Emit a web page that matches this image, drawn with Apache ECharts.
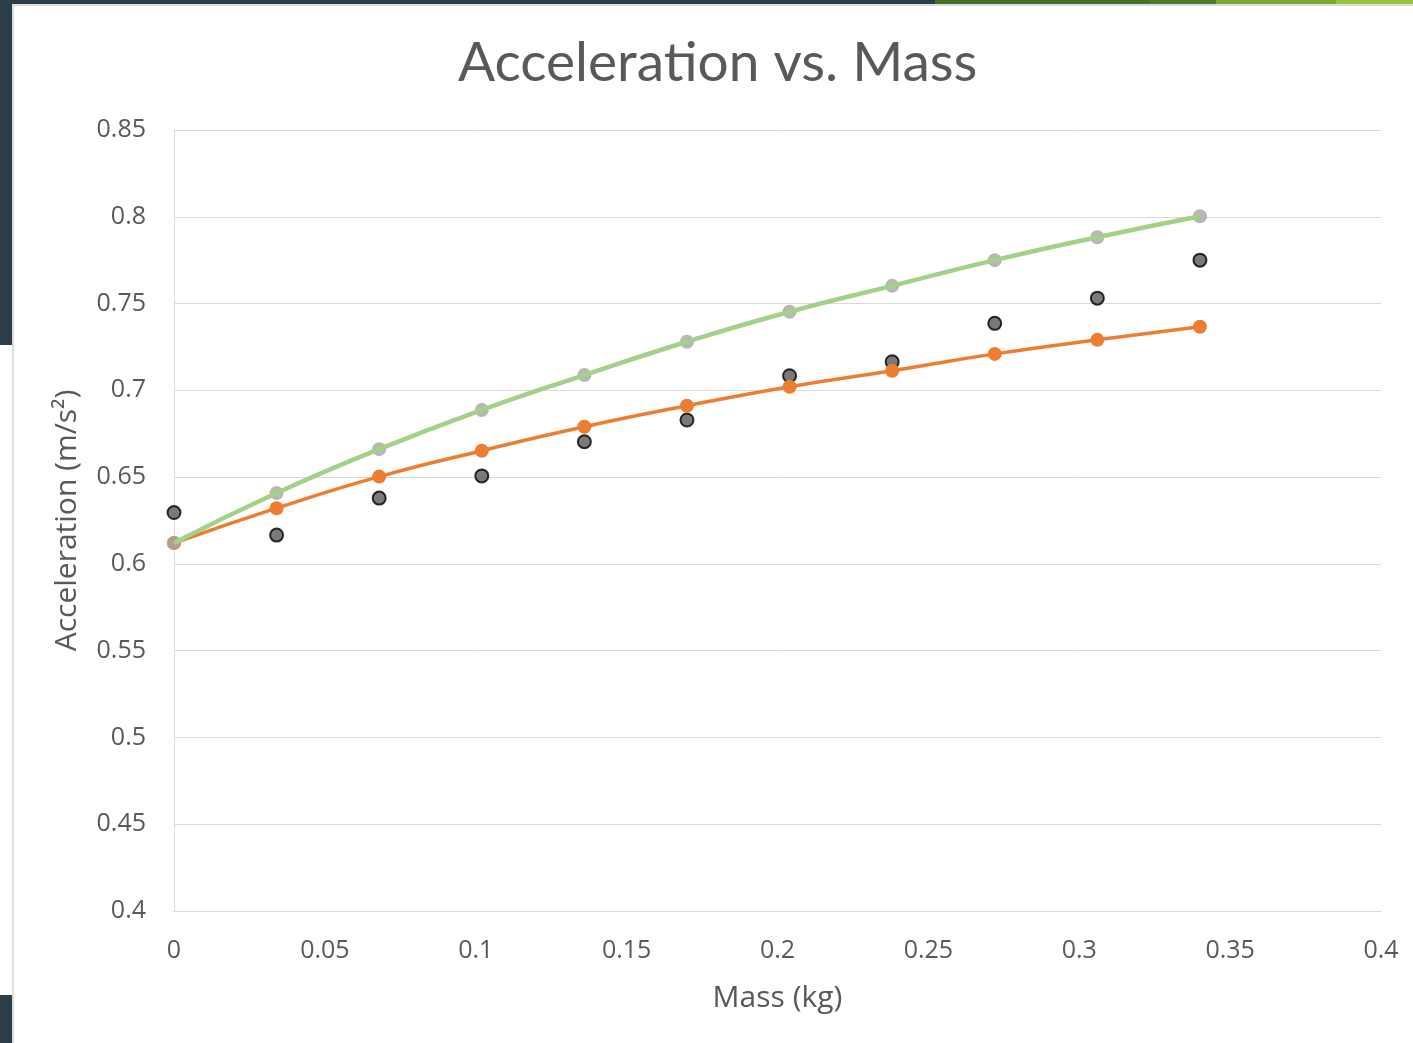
<!DOCTYPE html>
<html>
<head>
<meta charset="utf-8">
<script src="https://cdn.jsdelivr.net/npm/echarts@6/dist/echarts.min.js"></script>
<style>
html,body{margin:0;padding:0;background:#fff;}
#chart{width:1413px;height:1043px;}
</style>
</head>
<body>
<div id="chart"></div>
<script>
// Data
var massValues = [0, 0.034, 0.068, 0.102, 0.136, 0.17, 0.204, 0.238, 0.272, 0.306, 0.34];
var grayValues = [0.612, 0.6408, 0.6661, 0.6887, 0.7088, 0.728, 0.7453, 0.7602, 0.775, 0.7882, 0.8003];
var orangeValues = [0.612, 0.6321, 0.6503, 0.6652, 0.679, 0.6911, 0.7021, 0.7113, 0.721, 0.7291, 0.7366];
var blackValues = [0.6296, 0.6166, 0.6379, 0.6507, 0.6704, 0.6829, 0.7084, 0.7165, 0.7386, 0.7531, 0.775];
var titleText = 'Acceleration vs. Mass';
var xAxisName = 'Mass (kg)';
var yAxisName = 'Acceleration (m/s\u00B2)';

function pairs(xs, ys) {
  return xs.map(function (x, i) { return [x, ys[i]]; });
}
function fmt(v) {
  return String(parseFloat(v.toFixed(2)));
}

var chart = echarts.init(document.getElementById('chart'), null, {renderer: 'canvas'});
var textColor = '#595959';

chart.setOption({
  animation: false,
  backgroundColor: '#ffffff',
  title: {
    text: titleText,
    left: 453,
    top: 31,
    textStyle: {fontFamily: 'Lato', fontSize: 55, fontWeight: 'normal', color: textColor}
  },
  graphic: [
    {type: 'rect', shape: {x: 0, y: 0, width: 935, height: 4}, style: {fill: '#2b3d48'}, silent: true},
    {type: 'rect', shape: {x: 935, y: 0, width: 214, height: 4}, style: {fill: '#486f2a'}, silent: true},
    {type: 'rect', shape: {x: 1149, y: 0, width: 67, height: 4}, style: {fill: '#4f7b2a'}, silent: true},
    {type: 'rect', shape: {x: 1216, y: 0, width: 120, height: 4}, style: {fill: '#7ba82e'}, silent: true},
    {type: 'rect', shape: {x: 1336, y: 0, width: 77, height: 4}, style: {fill: '#98c13d'}, silent: true},
    {type: 'rect', shape: {x: 12, y: 4, width: 1401, height: 2}, style: {fill: '#dcdcdc'}, silent: true},
    {type: 'rect', shape: {x: 0, y: 0, width: 12, height: 345}, style: {fill: '#2b3d48'}, silent: true},
    {type: 'rect', shape: {x: 0, y: 995, width: 12, height: 48}, style: {fill: '#2b3d48'}, silent: true},
    {type: 'rect', shape: {x: 12, y: 4, width: 2, height: 1039}, style: {fill: '#dcdcdc'}, silent: true}
  ],
  grid: {left: 174, right: 32, top: 130, bottom: 132, containLabel: false},
  xAxis: {
    type: 'value',
    min: 0, max: 0.4, interval: 0.05,
    name: xAxisName,
    nameLocation: 'middle',
    nameGap: 72,
    nameTextStyle: {fontFamily: 'Open Sans', fontSize: 30, color: textColor},
    axisLine: {show: true, lineStyle: {color: '#d9d9d9', width: 1}},
    axisTick: {show: false},
    splitLine: {show: false},
    axisLabel: {
      margin: 27,
      fontFamily: 'Open Sans',
      fontSize: 25,
      color: textColor,
      formatter: fmt
    }
  },
  yAxis: {
    type: 'value',
    min: 0.4, max: 0.85, interval: 0.05,
    name: yAxisName,
    nameLocation: 'middle',
    nameGap: 92,
    nameTextStyle: {fontFamily: 'Open Sans', fontSize: 30, color: textColor},
    axisLine: {show: true, lineStyle: {color: '#d9d9d9', width: 1}},
    axisTick: {show: false},
    splitLine: {show: true, lineStyle: {color: '#d9d9d9', width: 1}},
    axisLabel: {
      margin: 28,
      fontFamily: 'Open Sans',
      fontSize: 25,
      color: textColor,
      formatter: fmt
    }
  },
  series: [
    {
      name: 'black points',
      type: 'scatter',
      data: pairs(massValues, blackValues),
      symbol: 'circle',
      symbolSize: 13,
      itemStyle: {color: '#595959', borderColor: '#000000', borderWidth: 2},
      z: 1
    },
    {
      name: 'orange',
      type: 'line',
      data: pairs(massValues, orangeValues),
      smooth: true,
      symbol: 'circle',
      symbolSize: 14,
      showSymbol: true,
      lineStyle: {color: '#ed7d31', width: 3.5},
      itemStyle: {color: '#ed7d31', borderWidth: 0},
      z: 2
    },
    {
      name: 'gray points',
      type: 'scatter',
      data: pairs(massValues, grayValues),
      symbol: 'circle',
      symbolSize: 14,
      itemStyle: {color: '#a5a5a5'},
      z: 3
    },
    {
      name: 'green curve',
      type: 'line',
      data: pairs(massValues, grayValues),
      smooth: true,
      showSymbol: false,
      symbol: 'none',
      lineStyle: {color: '#a3d18a', width: 4.5},
      z: 4
    }
  ]
});
</script>
</body>
</html>
